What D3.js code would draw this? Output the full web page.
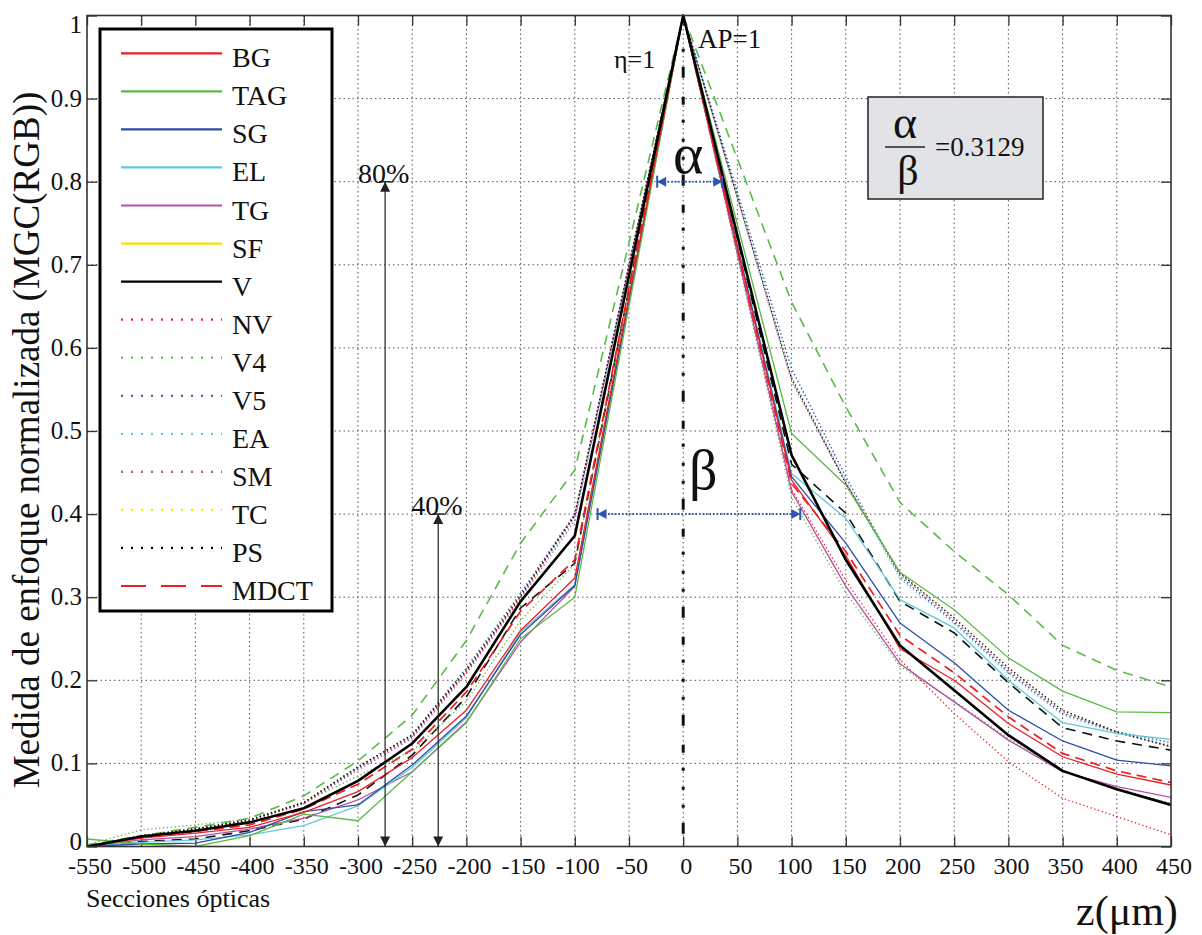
<!DOCTYPE html>
<html><head><meta charset="utf-8">
<script src="https://cdn.jsdelivr.net/npm/d3@7"></script>
<style>
body{margin:0;background:#fff;}
svg, svg text{font-family:"Liberation Serif","Tinos","DejaVu Serif","Noto Serif",serif;}
svg text{fill:#111;}
</style></head><body>
<svg id="c" width="1202" height="935" font-family="Liberation Serif, DejaVu Serif, serif"></svg>
<script>
// ---------- DATA ----------
const zValues = [-550,-500,-450,-400,-350,-300,-250,-200,-150,-100,0,100,150,200,250,300,350,400,450];
const BG   = [0,0.010,0.016,0.023,0.041,0.066,0.107,0.164,0.260,0.323,1,0.441,0.350,0.238,0.200,0.148,0.108,0.087,0.074];
const TAG  = [0.009,0.003,0,0.013,0.039,0.031,0.090,0.149,0.250,0.300,1,0.497,0.435,0.330,0.285,0.227,0.187,0.162,0.161];
const SG   = [0,0.003,0.004,0.017,0.042,0.050,0.098,0.157,0.255,0.314,1,0.445,0.365,0.269,0.221,0.164,0.127,0.104,0.097];
const EL   = [0,0.005,0.008,0.014,0.025,0.049,0.095,0.155,0.258,0.315,1,0.449,0.395,0.297,0.263,0.200,0.149,0.136,0.129];
const TG   = [0,0.008,0.012,0.021,0.034,0.056,0.090,0.150,0.246,0.313,1,0.427,0.313,0.220,0.174,0.128,0.090,0.072,0.059];
const SF   = [0,0.012,0.019,0.029,0.046,0.079,0.124,0.192,0.295,0.374,1,0.471,0.345,0.242,0.188,0.134,0.091,0.069,0.050];
const V    = [0,0.012,0.019,0.029,0.046,0.079,0.124,0.192,0.295,0.374,1,0.471,0.345,0.242,0.188,0.134,0.091,0.069,0.050];
const NV   = [0,0.013,0.022,0.031,0.052,0.094,0.132,0.210,0.300,0.400,1,0.430,0.320,0.225,0.160,0.102,0.058,0.036,0.014];
const V4   = [0.002,0.020,0.026,0.033,0.053,0.085,0.115,0.175,0.272,0.340,1,0.420,0.305,0.217,0.175,0.130,0.090,0.070,0.052];
const V5   = [0,0.012,0.021,0.032,0.053,0.095,0.135,0.215,0.305,0.400,1,0.575,0.445,0.325,0.270,0.210,0.160,0.138,0.125];
const EA   = [0,0.012,0.020,0.031,0.052,0.093,0.132,0.212,0.300,0.395,1,0.565,0.440,0.322,0.268,0.208,0.158,0.136,0.122];
const SM   = [0,0.012,0.020,0.031,0.051,0.092,0.130,0.208,0.298,0.392,1,0.560,0.438,0.328,0.272,0.212,0.162,0.137,0.120];
const TC   = [0,0.013,0.021,0.032,0.053,0.096,0.134,0.212,0.302,0.398,1,0.563,0.437,0.329,0.275,0.215,0.164,0.138,0.120];
const PS   = [0,0.013,0.021,0.032,0.053,0.096,0.134,0.212,0.302,0.398,1,0.563,0.437,0.329,0.275,0.215,0.164,0.138,0.120];
const MDCT = [0,0.011,0.018,0.026,0.045,0.075,0.117,0.186,0.283,0.345,1,0.437,0.355,0.254,0.209,0.156,0.112,0.091,0.077];
// two further curves drawn in the plot without a legend entry
const extraGreenDashed = [0.002,0.013,0.023,0.034,0.061,0.103,0.158,0.248,0.365,0.453,1,0.655,0.529,0.414,0.355,0.303,0.242,0.212,0.192];
const extraBlackDashed = [0,0.006,0.009,0.019,0.033,0.062,0.110,0.180,0.287,0.341,1,0.460,0.401,0.295,0.257,0.197,0.143,0.127,0.116];

const xTicks = [-550,-500,-450,-400,-350,-300,-250,-200,-150,-100,-50,0,50,100,150,200,250,300,350,400,450];
const xTickLabels = ["-550","-500","-450","-400","-350","-300","-250","-200","-150","-100","-50","0","50","100","150","200","250","300","350","400","450"];
const yTicks = [0,0.1,0.2,0.3,0.4,0.5,0.6,0.7,0.8,0.9,1];
const yTickLabels = ["0","0.1","0.2","0.3","0.4","0.5","0.6","0.7","0.8","0.9","1"];
const legendNames = ["BG","TAG","SG","EL","TG","SF","V","NV","V4","V5","EA","SM","TC","PS","MDCT"];
const ratioText = "=0.3129";

// ---------- STYLES ----------
const C = {red:"#ec2024", green:"#5cb947", blue:"#2b4ea6", cyan:"#62c9d9", mag:"#b550a5", yel:"#f2e500", blk:"#000"};
const DOT = "1.3,2.6", DASH = "10,7";
const series = [
  {name:"extraG", data:extraGreenDashed, color:C.green, w:1.6, dash:DASH},
  {name:"extraK", data:extraBlackDashed, color:"#111", w:1.6, dash:DASH},
  {name:"TC", data:TC, color:C.yel, w:1.3, dash:DOT},
  {name:"SM", data:SM, color:C.mag, w:1.3, dash:DOT},
  {name:"EA", data:EA, color:C.cyan, w:1.3, dash:DOT},
  {name:"V4", data:V4, color:C.green, w:1.3, dash:DOT},
  {name:"NV", data:NV, color:C.red, w:1.3, dash:DOT},
  {name:"V5", data:V5, color:C.blue, w:1.4, dash:DOT},
  {name:"PS", data:PS, color:"#111", w:1.4, dash:DOT},
  {name:"SF", data:SF, color:C.yel, w:1.3, dash:null},
  {name:"TG", data:TG, color:C.mag, w:1.3, dash:null},
  {name:"EL", data:EL, color:C.cyan, w:1.3, dash:null},
  {name:"SG", data:SG, color:C.blue, w:1.3, dash:null},
  {name:"TAG", data:TAG, color:C.green, w:1.3, dash:null},
  {name:"BG", data:BG, color:C.red, w:1.3, dash:null},
  {name:"MDCT", data:MDCT, color:C.red, w:1.7, dash:"10,6"},
  {name:"V", data:V, color:"#000", w:2.6, dash:null}
];
const legendStyle = {
  BG:{c:C.red,d:null}, TAG:{c:C.green,d:null}, SG:{c:C.blue,d:null}, EL:{c:C.cyan,d:null},
  TG:{c:C.mag,d:null}, SF:{c:C.yel,d:null}, V:{c:"#000",d:null},
  NV:{c:C.red,d:"2,8"}, V4:{c:C.green,d:"2,8"}, V5:{c:C.blue,d:"2,8"}, EA:{c:C.cyan,d:"2,8"},
  SM:{c:C.mag,d:"2,8"}, TC:{c:C.yel,d:"2,8"}, PS:{c:"#000",d:"2,8"}, MDCT:{c:C.red,d:"25,15"}
};
const FONT = "'Liberation Serif','Tinos','DejaVu Serif','Noto Serif',serif";

// ---------- SCALES ----------
const svg = d3.select("#c");
const L = 87, R = 1171, T = 15.5, B = 846.5;
const x = d3.scaleLinear().domain([-550,450]).range([L,R]);
const y = d3.scaleLinear().domain([0,1]).range([B,T]);

// grid
const grid = svg.append("g").attr("stroke","#555").attr("stroke-width",1).attr("stroke-dasharray","1.5,3");
grid.selectAll("line.gx").data(xTicks.slice(1,-1)).join("line")
  .attr("x1",d=>x(d)).attr("x2",d=>x(d)).attr("y1",T).attr("y2",B);
grid.selectAll("line.gy").data(yTicks.slice(1,-1)).join("line").attr("class","gy")
  .attr("y1",d=>y(d)).attr("y2",d=>y(d)).attr("x1",L).attr("x2",R);

// axes with inward ticks
const fmt = () => "";
function styleAxis(g){ g.select(".domain").remove(); g.selectAll(".tick line").attr("stroke","#333").attr("stroke-width",1.3); }
svg.append("g").attr("transform",`translate(0,${B})`).call(d3.axisBottom(x).tickValues(xTicks).tickSize(-10).tickFormat(fmt)).call(styleAxis);
svg.append("g").attr("transform",`translate(0,${T})`).call(d3.axisTop(x).tickValues(xTicks).tickSize(-10).tickFormat(fmt)).call(styleAxis);
svg.append("g").attr("transform",`translate(${L},0)`).call(d3.axisLeft(y).tickValues(yTicks).tickSize(-10).tickFormat(fmt)).call(styleAxis);
svg.append("g").attr("transform",`translate(${R},0)`).call(d3.axisRight(y).tickValues(yTicks).tickSize(-10).tickFormat(fmt)).call(styleAxis);

// tick labels
svg.append("g").selectAll("text").data(xTicks).join("text")
  .attr("x",d=>x(d)+3).attr("y",874).attr("text-anchor","middle").attr("font-size",24)
  .text((d,i)=>xTickLabels[i]);
svg.append("g").selectAll("text").data(yTicks).join("text")
  .attr("x",L-5).attr("y",d=>Math.min(Math.max(y(d)+8,33),850)).attr("text-anchor","end").attr("font-size",25)
  .text((d,i)=>yTickLabels[i]);

// curves
svg.append("clipPath").attr("id","clip").append("rect").attr("x",L).attr("y",T-2).attr("width",R-L).attr("height",B-T+2);
const line = d3.line().x((d,i)=>x(zValues[i])).y(d=>y(d));
const lg = svg.append("g").attr("clip-path","url(#clip)");
series.forEach(s=>{
  lg.append("path").datum(s.data).attr("d",line).attr("fill","none")
    .attr("stroke",s.color).attr("stroke-width",s.w).attr("stroke-linejoin","round")
    .attr("stroke-dasharray",s.dash);
});

// centre dash-dot line
svg.append("line").attr("x1",x(0)).attr("x2",x(0)).attr("y1",y(0.96)).attr("y2",B-8)
  .attr("stroke","#111").attr("stroke-width",3).attr("stroke-dasharray","3,15,11,19,8,15,3,16,3,15");

// frame
svg.append("rect").attr("x",L).attr("y",T).attr("width",R-L).attr("height",B-T)
  .attr("fill","none").attr("stroke","#333").attr("stroke-width",1.6);

// vertical percentage arrows
function vArrow(zx, yv, label){
  const g = svg.append("g");
  const px = x(zx), top = y(yv);
  g.append("line").attr("x1",px).attr("x2",px).attr("y1",top).attr("y2",B).attr("stroke","#222").attr("stroke-width",1.2);
  g.append("path").attr("d",`M${px},${top}l-5,10h10z`).attr("fill","#222");
  g.append("path").attr("d",`M${px},${B}l-5,-10h10z`).attr("fill","#222");
  g.append("line").attr("x1",px-6).attr("x2",px+6).attr("y1",top).attr("y2",top).attr("stroke","#222").attr("stroke-width",1.5);
  g.append("text").attr("x",px-27).attr("y",top+1).attr("font-size",28).text(label);
}
vArrow(-275, 0.8, "80%");
vArrow(-226, 0.4, "40%");

// horizontal blue arrows
function hArrow(z1, z2, yv){
  const g = svg.append("g");
  const a = x(z1), b = x(z2), py = y(yv), col = "#2d55b0";
  g.append("line").attr("x1",a).attr("x2",b).attr("y1",py).attr("y2",py).attr("stroke",col).attr("stroke-width",2).attr("stroke-dasharray","1.5,2");
  g.append("path").attr("d",`M${a},${py}l9,-5v10z`).attr("fill",col);
  g.append("path").attr("d",`M${b},${py}l-9,-5v10z`).attr("fill",col);
  g.append("line").attr("x1",a).attr("x2",a).attr("y1",py-6).attr("y2",py+6).attr("stroke",col).attr("stroke-width",2);
  g.append("line").attr("x1",b).attr("x2",b).attr("y1",py-6).attr("y2",py+6).attr("stroke",col).attr("stroke-width",2);
}
hArrow(-24, 36, 0.8);
hArrow(-79, 108, 0.4);

// annotation texts
svg.append("text").attr("x",673).attr("y",173).attr("font-size",58).text("α");
svg.append("text").attr("x",689).attr("y",489).attr("font-size",56).text("β");
svg.append("text").attr("x",614).attr("y",68).attr("font-size",26).text("η=1");
svg.append("text").attr("x",698).attr("y",48).attr("font-size",27).text("AP=1");

// ratio box
const rb = svg.append("g");
rb.append("rect").attr("x",868).attr("y",97).attr("width",175).attr("height",102).attr("fill","#e1e3e6").attr("stroke","#222").attr("stroke-width",1.5);
rb.append("text").attr("x",905).attr("y",138).attr("text-anchor","middle").attr("font-size",46).text("α");
rb.append("line").attr("x1",885).attr("x2",925).attr("y1",147).attr("y2",147).attr("stroke","#222").attr("stroke-width",1.5);
rb.append("text").attr("x",908).attr("y",185).attr("text-anchor","middle").attr("font-size",42).text("β");
rb.append("text").attr("x",935).attr("y",156).attr("font-size",27).text(ratioText);

// legend
const leg = svg.append("g");
leg.append("rect").attr("x",100).attr("y",29).attr("width",232).attr("height",582).attr("fill","#fff").attr("stroke","#000").attr("stroke-width",3);
legendNames.forEach((n,i)=>{
  const ly = 53.3 + i*38.05, st = legendStyle[n];
  leg.append("line").attr("x1",121).attr("x2",222).attr("y1",ly).attr("y2",ly)
    .attr("stroke",st.c).attr("stroke-width",2.2).attr("stroke-dasharray",st.d);
  leg.append("text").attr("x",232).attr("y",ly+14).attr("font-size",28).text(n);
});

// axis titles
svg.append("text").attr("transform","translate(39,440) rotate(-90)").attr("text-anchor","middle").attr("font-size",37)
  .text("Medida de enfoque normalizada (MGC(RGB))");
svg.append("text").attr("x",86).attr("y",907).attr("font-size",26).text("Secciones ópticas");
svg.append("text").attr("x",1076).attr("y",925).attr("font-size",42).text("z(μm)");

svg.selectAll("text").attr("font-family",FONT);
</script></body></html>
